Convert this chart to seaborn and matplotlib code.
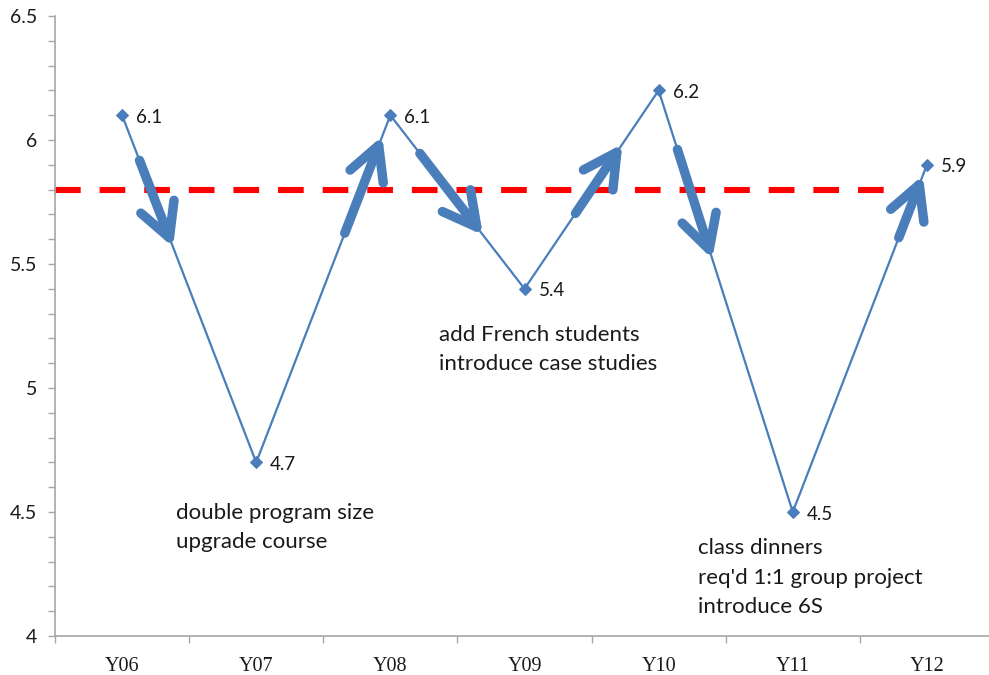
import matplotlib
matplotlib.use("Agg")
import matplotlib.pyplot as plt
from matplotlib.patches import FancyArrowPatch
from matplotlib.ticker import MultipleLocator, FixedLocator
import numpy as np
import pandas as pd
import seaborn as sns

# ---- data ----
years = ["Y06", "Y07", "Y08", "Y09", "Y10", "Y11", "Y12"]
scores = [6.1, 4.7, 6.1, 5.4, 6.2, 4.5, 5.9]
target = 5.8
notes = [
    ("Y07", "double program size\nupgrade course"),
    ("Y09", "add French students\nintroduce case studies"),
    ("Y11", "class dinners\nreq'd 1:1 group project\nintroduce 6S"),
]
y_ticks = [4, 4.5, 5, 5.5, 6, 6.5]
y_tick_labels = ["4", "4.5", "5", "5.5", "6", "6.5"]

BLUE = "#4A7EBB"
GRAY = "#A6A6A6"

sns.set_theme(style="white")
plt.rcParams["font.family"] = ["Lato", "DejaVu Sans"]

df = pd.DataFrame({"year": years, "score": scores})

fig = plt.figure(figsize=(9.89, 6.75), dpi=100)
ax = fig.add_axes([55 / 989, 1 - 636 / 675, (994 - 55) / 989, (636 - 16) / 675])

sns.lineplot(data=df, x="year", y="score", sort=False, ax=ax, color=BLUE,
             linewidth=1.6, marker="D", markersize=6.5, markeredgecolor=BLUE,
             markerfacecolor=BLUE, zorder=3)

ax.set_xlim(-0.5, 6.5)
ax.set_ylim(4, 6.5)

# target line
ax.plot([-0.5, 5.72], [target, target], color="#FF0000", linewidth=4.4,
        linestyle=(0, (4.2, 3.1)), dash_capstyle="butt", zorder=2, clip_on=False)

# arrows along segments (fractions of each segment)
arrow_spans = [(0.13, 0.38), (0.66, 0.94), (0.22, 0.69), (0.38, 0.73), (0.14, 0.40), (0.79, 0.97)]
for i, (t0, t1) in enumerate(arrow_spans):
    y0, y1 = scores[i], scores[i + 1]
    pa = (i + t0, y0 + (y1 - y0) * t0)
    pb = (i + t1, y0 + (y1 - y0) * t1)
    arr = FancyArrowPatch(pa, pb, arrowstyle="->,head_length=0.6,head_width=0.32",
                          mutation_scale=40, color=BLUE, linewidth=6.8,
                          capstyle="round", joinstyle="round",
                          shrinkA=0, shrinkB=0, zorder=4)
    ax.add_patch(arr)

# data labels
for i, v in enumerate(scores):
    ax.annotate(f"{v:.1f}", (i, v), xytext=(14, -2), textcoords="offset pixels",
                ha="left", va="center", fontsize=13.5, color="#1a1a1a")

# notes
note_pos = {"Y07": (0.40, 4.538), "Y09": (2.36, 5.256), "Y11": (4.29, 4.395)}
for yr, txt in notes:
    x, y = note_pos[yr]
    ax.text(x, y, txt, ha="left", va="top", fontsize=16, color="#1a1a1a",
            linespacing=1.6)

# axes styling
for s in ["top", "right"]:
    ax.spines[s].set_visible(False)
for s in ["left", "bottom"]:
    ax.spines[s].set_color(GRAY)
    ax.spines[s].set_linewidth(1.2)

ax.yaxis.set_major_locator(FixedLocator(y_ticks))
ax.set_yticklabels(y_tick_labels, fontsize=14, color="#1a1a1a")
ax.yaxis.set_minor_locator(MultipleLocator(0.1))
ax.tick_params(axis="y", which="both", direction="out", length=5, width=1,
               color=GRAY, left=True, pad=8)

ax.set_xticks(range(len(years)))
ax.set_xticklabels(years, fontsize=14.5, family=["Liberation Serif", "DejaVu Serif"],
                   color="#1a1a1a")
ax.xaxis.set_minor_locator(FixedLocator(np.arange(-0.5, 7, 1.0)))
ax.tick_params(axis="x", which="major", length=0, pad=15)
ax.tick_params(axis="x", which="minor", direction="out", length=5, width=1,
               color=GRAY, bottom=True)
ax.set_xlabel("")
ax.set_ylabel("")
ax.grid(False)

fig.savefig("out.png", dpi=100)
